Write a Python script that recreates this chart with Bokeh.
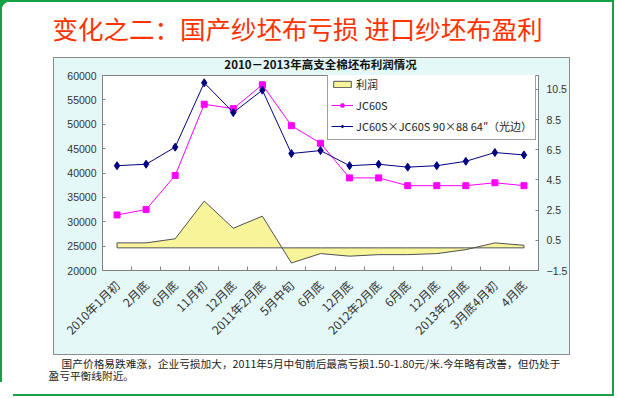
from math import pi
from bokeh.plotting import figure
from bokeh.models import (Range1d, LinearAxis, FixedTicker, Legend, LegendItem, Title)
from bokeh.embed import file_html
from bokeh.resources import INLINE

categories = ["2010年1月初", "2月底", "6月底", "11月初", "12月底", "2011年2月底",
              "5月中旬", "6月底", "12月底", "2012年2月底", "6月底", "12月底",
              "2013年2月底", "3月底4月初", "4月底"]
jc60s = [31400, 32500, 39500, 54100, 53200, 58100, 49700, 46100,
         39000, 39000, 37400, 37400, 37400, 38000, 37400]
fabric = [41500, 41800, 45300, 58500, 52400, 57000, 44000, 44600,
          41500, 41800, 41200, 41500, 42400, 44200, 43700]
profit = [0.33, 0.33, 0.6, 3.1, 1.3, 2.1, -1.0, -0.38,
          -0.55, -0.45, -0.45, -0.38, -0.12, 0.33, 0.17]
left_ticks = [20000, 25000, 30000, 35000, 40000, 45000, 50000, 55000, 60000]
right_ticks = [-1.5, 0.5, 2.5, 4.5, 6.5, 8.5, 10.5]

title_text = "变化之二：国产纱坯布亏损 进口纱坯布盈利"
chart_title = "2010－2013年高支全棉坯布利润情况"
caption = ("　 国产价格易跌难涨，企业亏损加大，2011年5月中旬前后最高亏损1.50-1.80元/米.今年略有改善，但仍处于\n"
           "盈亏平衡线附近。")

idx = list(range(len(categories)))
CJK = "Noto Sans CJK SC"
GREEN = "#17A046"

page_css = {
    "background": (
        f"radial-gradient(circle at 10px 10px, transparent 8px, {GREEN} 8.6px) 0 0 / 10px 10px no-repeat, "
        f"linear-gradient({GREEN}, {GREEN}) 0 0 / 100% 2px no-repeat, "
        f"linear-gradient({GREEN}, {GREEN}) 0 0 / 2px 100% no-repeat, "
        "linear-gradient(#E4F8F8, #E4F8F8) 54px 58px / 515px 296px no-repeat, "
        "linear-gradient(#8C8C8C, #8C8C8C) 53px 57px / 517px 298px no-repeat, "
        "#FFFFFF"
    ),
    "box-shadow": (
        "11px 2px 0 0 #FFFFFF, 11px 12px 0 0 #FFFFFF, "
        f"13px 0 0 0 {GREEN}, 13px 14px 0 0 {GREEN}"
    ),
}

p = figure(width=601, height=382, output_backend="svg", toolbar_location=None,
           x_range=Range1d(-0.5, 14.5), y_range=Range1d(20000, 60000),
           x_axis_type=None, y_axis_type=None,
           min_border_left=102, min_border_right=63, min_border_top=75,
           min_border_bottom=111, background_fill_color="white",
           border_fill_color=None, outline_line_color="#808080",
           styles=page_css)
p.extra_y_ranges = {"profit": Range1d(-1.5, 11.42)}

p.title = Title(text=title_text, align="left", offset=-50, standoff=7,
                vertical_align="middle",
                text_font=CJK, text_font_size="25.5px", text_font_style="normal",
                text_color="#FF3300")

# profit area
px = idx + idx[::-1]
py = profit + [0] * len(idx)
area = p.patch(px, py, y_range_name="profit", fill_color="#F8F49A",
               line_color="#505050", line_width=1)

l1 = p.line(idx, jc60s, line_color="#FF00FF", line_width=1)
s1 = p.scatter(idx, jc60s, marker="square", size=6, fill_color="#FF00FF",
               line_color="#FF00FF")
l2 = p.line(idx, fabric, line_color="#000080", line_width=1)
s2 = p.scatter(idx, fabric, marker="diamond", size=8, fill_color="#000080",
               line_color="#000080")

def style_axis(ax):
    ax.axis_line_color = "#808080"
    ax.major_tick_line_color = "#808080"
    ax.major_tick_in = 3
    ax.major_tick_out = 0
    ax.minor_tick_line_color = None
    ax.major_label_text_font = "Liberation Sans"
    ax.major_label_text_font_size = "10.5px"
    ax.major_label_text_color = "#333333"

yl = LinearAxis(ticker=FixedTicker(ticks=left_ticks))
style_axis(yl)
yl.major_label_standoff = 6
p.add_layout(yl, "left")

yr = LinearAxis(y_range_name="profit", ticker=FixedTicker(ticks=right_ticks))
style_axis(yr)
yr.major_label_standoff = 8
p.add_layout(yr, "right")

xa = LinearAxis(ticker=FixedTicker(ticks=idx, minor_ticks=[i + 0.5 for i in idx[:-1]]),
                major_label_overrides={i: c for i, c in enumerate(categories)},
                major_label_orientation=pi / 4,
                axis_label=" ", axis_label_standoff=0,
                axis_label_text_font="Liberation Sans",
                axis_label_text_font_size="3.5px")
xa.axis_line_color = "#808080"
xa.major_tick_line_color = None
xa.minor_tick_line_color = "#808080"
xa.minor_tick_in = 4
xa.minor_tick_out = 0
xa.major_label_text_font = CJK
xa.major_label_text_font_size = "12px"
xa.major_label_text_color = "#333333"
xa.major_label_standoff = 6
p.add_layout(xa, "below")

p.add_layout(Title(text=chart_title, align="center", offset=-5, standoff=7,
                   text_font=CJK, text_font_size="11.5px", text_font_style="bold",
                   text_color="#111111"), "above")
p.add_layout(Title(text=caption, align="left", offset=-54, standoff=0,
                   text_font=CJK, text_font_size="10.7px", text_font_style="normal",
                   text_color="#222222", text_line_height=0.8), "below")

legend = Legend(items=[LegendItem(label="利润", renderers=[area]),
                       LegendItem(label="JC60S", renderers=[l1, s1]),
                       LegendItem(label="JC60S×JC60S 90×88 64″（光边）", renderers=[l2, s2])],
                location=(225, 130), label_text_font=CJK, label_text_font_size="11px",
                label_text_color="#222222", glyph_width=22, glyph_height=8,
                label_height=20, label_standoff=3, spacing=1, padding=3, margin=0,
                border_line_color="#404040", border_line_width=1,
                background_fill_color="white", background_fill_alpha=1)
p.add_layout(legend)

open("out.html", "w").write(file_html(p, INLINE))
